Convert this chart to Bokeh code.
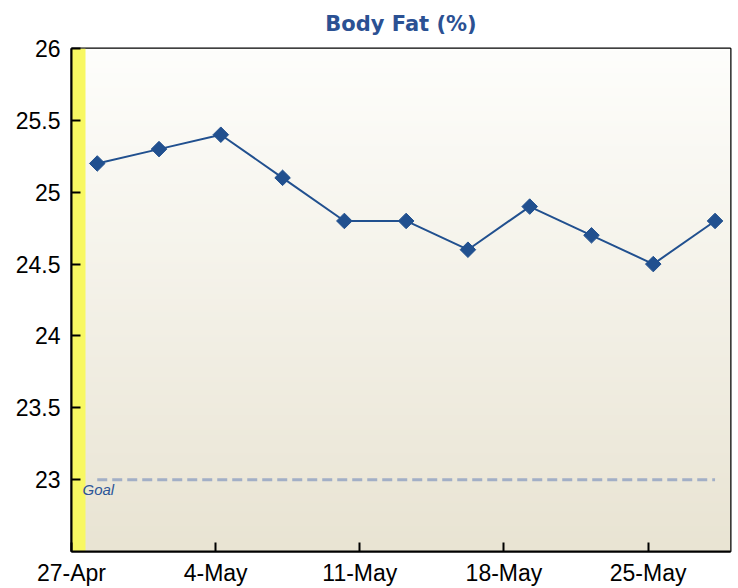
import numpy as np
import pandas as pd
from bokeh.plotting import figure
from bokeh.models import Range1d, FixedTicker, Label
from bokeh.embed import file_html
from bokeh.resources import INLINE

# ---- data ----
start_date = "2009-04-27"
dates = ["2009-04-28 06:00", "2009-05-01 06:00", "2009-05-04 06:00", "2009-05-07 06:00",
         "2009-05-10 06:00", "2009-05-13 06:00", "2009-05-16 06:00", "2009-05-19 06:00",
         "2009-05-22 06:00", "2009-05-25 06:00", "2009-05-28 06:00"]
body_fat = [25.2, 25.3, 25.4, 25.1, 24.8, 24.8, 24.6, 24.9, 24.7, 24.5, 24.8]
goal = 23.0
x_tick_dates = ["2009-04-27", "2009-05-04", "2009-05-11", "2009-05-18", "2009-05-25"]
x_tick_labels = ["27-Apr", "4-May", "11-May", "18-May", "25-May"]
y_ticks = [23, 23.5, 24, 24.5, 25, 25.5, 26]
y_tick_labels = ["23", "23.5", "24", "24.5", "25", "25.5", "26"]
x_span_days = 32.0
y_min, y_max = 22.5, 26.0
yellow_band_days = 0.68
title_text = "Body Fat (%)"

t0 = pd.Timestamp(start_date)
x_days = [(pd.Timestamp(d) - t0).total_seconds() / 86400.0 for d in dates]
x_tick_vals = [(pd.Timestamp(d) - t0).total_seconds() / 86400.0 for d in x_tick_dates]

p = figure(width=738, height=588, output_backend="svg", toolbar_location=None,
           x_range=Range1d(0, x_span_days), y_range=Range1d(y_min, y_max),
           min_border_left=71, min_border_right=8, min_border_top=48, min_border_bottom=37)

p.background_fill_color = "white"
p.border_fill_color = "white"
p.outline_line_color = "black"
p.outline_line_width = 2

# gradient background
n = 200
top = np.array([254, 254, 252], dtype=float)
bot = np.array([233, 228, 211], dtype=float)
img = np.empty((n, 1), dtype=np.uint32)
view = img.view(dtype=np.uint8).reshape((n, 1, 4))
for i in range(n):
    t = i / (n - 1)  # row 0 = bottom
    c = bot + (top - bot) * t
    view[i, 0, 0] = int(c[0]); view[i, 0, 1] = int(c[1]); view[i, 0, 2] = int(c[2]); view[i, 0, 3] = 255
p.image_rgba(image=[img], x=0, y=y_min, dw=x_span_days, dh=y_max - y_min)

# yellow band
p.quad(left=[0], right=[yellow_band_days], bottom=[y_min], top=[y_max],
       fill_color="#f8f862", line_color=None)

# goal line
p.line([x_days[0], x_days[-1]], [goal, goal], line_color="#a2afc6", line_width=3,
       line_dash="10 5")
p.add_layout(Label(x=0, y=goal, x_offset=11, y_offset=-1, text="Goal",
                   text_font="Liberation Sans", text_font_style="italic",
                   text_font_size="15px", text_color="#2c5597", text_baseline="top"))

# series
p.line(x_days, body_fat, line_color="#21508f", line_width=2)
p.scatter(x_days, body_fat, marker="square", angle=np.pi / 4, size=11,
          fill_color="#21508f", line_color="#21508f")

# title
p.title.text = title_text
p.title.align = "center"
p.title.vertical_align = "top"
p.title.text_font = "DejaVu Sans"
p.title.text_font_style = "bold"
p.title.text_font_size = "21px"
p.title.text_color = "#2b5193"
p.title.standoff = 22

# axes
p.xgrid.visible = False
p.ygrid.visible = False
for ax in (p.xaxis[0], p.yaxis[0]):
    ax.axis_line_color = "black"
    ax.axis_line_width = 2
    ax.major_tick_line_color = "black"
    ax.major_tick_line_width = 2
    ax.major_tick_in = 9
    ax.major_tick_out = 0
    ax.minor_tick_line_color = None
    ax.major_label_text_font = "Liberation Sans"
    ax.major_label_text_font_size = "23px"
    ax.major_label_text_color = "black"

p.xaxis.ticker = FixedTicker(ticks=x_tick_vals)
p.xaxis.major_label_overrides = {v: l for v, l in zip(x_tick_vals, x_tick_labels)}
p.xaxis.major_label_standoff = 8
p.yaxis.ticker = FixedTicker(ticks=y_ticks)
p.yaxis.major_label_overrides = {v: l for v, l in zip(y_ticks, y_tick_labels)}
p.yaxis.major_label_standoff = 11

open("out.html", "w").write(file_html(p, INLINE))
